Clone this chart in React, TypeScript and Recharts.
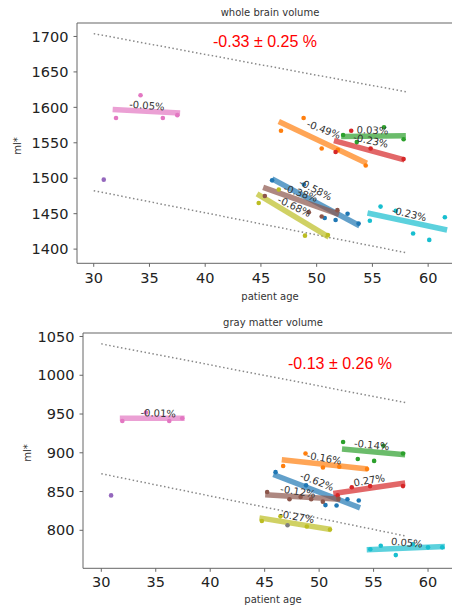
import { ComposedChart, ReferenceLine, Scatter, XAxis, YAxis } from "recharts";

type Pair = [number, number];

// subject colours, matplotlib tab10 order
const colors = [
  "#1f77b4",
  "#ff7f0e",
  "#2ca02c",
  "#d62728",
  "#9467bd",
  "#8c564b",
  "#e377c2",
  "#7f7f7f",
  "#bcbd22",
  "#17becf"
];

const ageTicks = [30, 35, 40, 45, 50, 55, 60];

// ---- whole brain volume: [age, ml]
const wbBlue: Pair[] = [[46.0, 1497], [48.86, 1491], [50.72, 1444], [51.7, 1441], [52.77, 1450], [53.76, 1436]];
const wbOrange: Pair[] = [[46.8, 1567], [48.83, 1585], [50.45, 1542], [51.9, 1540], [54.4, 1518]];
const wbGreen: Pair[] = [[52.37, 1561], [53.6, 1551], [56.04, 1572], [57.8, 1555]];
const wbRed: Pair[] = [[51.7, 1537], [53.1, 1567], [54.84, 1542], [57.8, 1527]];
const wbPurple: Pair[] = [[30.9, 1498]];
const wbBrown: Pair[] = [[45.35, 1475], [49.3, 1452], [50.45, 1446], [51.86, 1455]];
const wbPink: Pair[] = [[32.0, 1585], [34.2, 1617], [36.2, 1585], [37.5, 1589]];
const wbGray: Pair[] = [];
const wbOlive: Pair[] = [[44.8, 1465], [46.6, 1484], [48.95, 1419], [51.0, 1420]];
const wbCyan: Pair[] = [[54.77, 1440], [55.73, 1460], [57.1, 1454], [58.65, 1422], [60.1, 1413], [61.5, 1445]];

const wbFitStart: (Pair | null)[] = [[46.0, 1499], [46.6, 1580], [52.2, 1559], [51.55, 1553], null, [45.2, 1487], [31.7, 1597], null, [44.65, 1478], [54.56, 1451]];
const wbFitEnd: (Pair | null)[] = [[53.85, 1433], [54.5, 1521], [58.0, 1560], [57.87, 1526], null, [52.0, 1449], [37.75, 1592], null, [51.1, 1417], [61.7, 1427]];
const wbLabelText = ["-0.58%", "-0.49%", "0.03%", "-0.23%", "", "-0.38%", "-0.05%", "", "-0.68%", "-0.23%"];
const wbLabelAt: Pair[] = [[49.9, 1484], [50.63, 1568.6], [55.0, 1567.6], [54.86, 1553], [0, 0], [48.56, 1479], [34.77, 1602.5], [0, 0], [48.0, 1460], [58.3, 1449.6]];
const wbLabelAngle = [27, 21, 2, 12, 0, 18, 4, 0, 25, 13];
const wbBoundUpper: Pair[] = [[30, 1704], [58, 1622]];
const wbBoundLower: Pair[] = [[30, 1482.5], [58, 1395]];
const wbTicks = [1400, 1450, 1500, 1550, 1600, 1650, 1700];

// ---- gray matter volume: [age, ml]
const gmBlue: Pair[] = [[46.0, 875], [48.8, 858], [50.58, 832.5], [51.6, 832], [52.6, 840], [53.64, 838.5]];
const gmOrange: Pair[] = [[46.7, 883], [48.75, 899], [50.35, 881], [51.85, 882], [54.4, 879]];
const gmGreen: Pair[] = [[52.2, 914], [53.55, 892], [55.05, 889.5], [55.9, 909], [57.7, 899]];
const gmRed: Pair[] = [[51.7, 845], [53.0, 855.5], [54.68, 857], [57.7, 857]];
const gmPurple: Pair[] = [[30.9, 845]];
const gmBrown: Pair[] = [[45.23, 849.5], [47.28, 840], [48.3, 843], [49.27, 840], [50.34, 837], [51.77, 840.5]];
const gmPink: Pair[] = [[31.93, 941], [34.1, 952], [36.24, 941], [37.43, 944.5]];
const gmGray: Pair[] = [[47.1, 806.5]];
const gmOlive: Pair[] = [[44.74, 812], [46.45, 818], [48.87, 805], [51.0, 801]];
const gmCyan: Pair[] = [[54.7, 775.5], [55.66, 780], [57.04, 768], [58.6, 782], [60.0, 778], [61.3, 778]];

const gmFitStart: (Pair | null)[] = [[45.8, 872], [46.57, 891], [52.1, 905], [51.3, 847.5], null, [45.05, 846], [31.7, 944.5], null, [44.52, 816], [54.37, 775]];
const gmFitEnd: (Pair | null)[] = [[53.76, 829], [54.47, 879], [57.9, 897.5], [57.9, 861], null, [51.93, 840], [37.65, 944.5], null, [51.1, 801], [61.55, 779]];
const gmLabelText = ["-0.62%", "-0.16%", "-0.14%", "0.27%", "", "-0.12%", "-0.01%", "", "-0.27%", "0.05%"];
const gmLabelAt: Pair[] = [[49.8, 863], [50.46, 893], [54.83, 910], [54.6, 864.5], [0, 0], [48.05, 850], [35.23, 951], [0, 0], [47.95, 817.5], [58.05, 784]];
const gmLabelAngle = [21, 10, 6, -10, 0, 9, 2, 0, 10, 5];
const gmBoundUpper: Pair[] = [[30, 1040.5], [58, 964.5]];
const gmBoundLower: Pair[] = [[30, 873], [58, 792.5]];
const gmTicks = [800, 850, 900, 950, 1000, 1050];

const font = "'DejaVu Sans', sans-serif";
const spine = "#666";

interface PanelProps {
  top: number;
  height: number;
  plotTop: number;
  plotHeight: number;
  plotLeft: number;
  xDomain: [number, number];
  yDomain: [number, number];
  yTicks: number[];
  points: Pair[][];
  fitStart: (Pair | null)[];
  fitEnd: (Pair | null)[];
  labelText: string[];
  labelAt: Pair[];
  labelAngle: number[];
  bounds: Pair[][];
  tickGap: number;
}

const toObj = (p: Pair) => ({ age: p[0], vol: p[1] });

function Panel(props: PanelProps) {
  const labels = props.labelText
    .map((text, i) => ({ age: props.labelAt[i][0], vol: props.labelAt[i][1], text, angle: props.labelAngle[i] }))
    .filter((l) => l.text);

  return (
    <div style={{ position: "absolute", left: 0, top: props.top }}>
      <ComposedChart
        width={452}
        height={props.height}
        margin={{ top: props.plotTop, right: 0, bottom: 0, left: props.plotLeft - 60 }}
      >
        <XAxis
          dataKey="age"
          type="number"
          domain={props.xDomain}
          ticks={ageTicks}
          allowDataOverflow
          height={props.height - props.plotTop - props.plotHeight}
          tickSize={3.5}
          tickMargin={props.tickGap}
          stroke={spine}
          tick={{ fill: "#222", fontSize: 14.5, fontFamily: font }}
        />
        <YAxis
          dataKey="vol"
          type="number"
          domain={props.yDomain}
          ticks={props.yTicks}
          allowDataOverflow
          width={60}
          tickSize={3.5}
          tickMargin={5}
          stroke={spine}
          tick={{ fill: "#222", fontSize: 14.5, fontFamily: font }}
        />
        <ReferenceLine y={props.yDomain[1]} stroke={spine} strokeWidth={1.2} ifOverflow="visible" />
        {props.bounds.map((b, i) => (
          <ReferenceLine
            key={`bound-${i}`}
            segment={[{ x: b[0][0], y: b[0][1] }, { x: b[1][0], y: b[1][1] }]}
            stroke="#888"
            strokeWidth={1.5}
            strokeDasharray="1.5 2.5"
          />
        ))}
        {props.fitStart.map((s, i) => {
          const e = props.fitEnd[i];
          if (!s || !e) return null;
          return (
            <ReferenceLine
              key={`fit-${i}`}
              segment={[{ x: s[0], y: s[1] }, { x: e[0], y: e[1] }]}
              stroke={colors[i]}
              strokeWidth={5.5}
              strokeOpacity={0.7}
            />
          );
        })}
        {props.points.map((pts, i) => (
          <Scatter
            key={`pts-${i}`}
            data={pts.map(toObj)}
            fill={colors[i]}
            isAnimationActive={false}
            shape={(p: any) => <circle cx={p.cx} cy={p.cy} r={2.3} fill={colors[i]} />}
          />
        ))}
        <Scatter
          data={labels}
          isAnimationActive={false}
          shape={(p: any) => (
            <text
              x={p.cx}
              y={p.cy}
              transform={`rotate(${p.payload.angle} ${p.cx} ${p.cy})`}
              textAnchor="middle"
              dominantBaseline="central"
              fontSize={10}
              fontFamily={font}
              fill="#333"
            >
              {p.payload.text}
            </text>
          )}
        />
      </ComposedChart>
    </div>
  );
}

const textStyle: React.CSSProperties = {
  position: "absolute",
  transform: "translate(-50%, -50%)",
  whiteSpace: "nowrap",
  lineHeight: 1,
  fontFamily: font,
  fontSize: 10,
  color: "#333"
};

const noteStyle: React.CSSProperties = {
  ...textStyle,
  fontFamily: "'Liberation Sans', Arial, sans-serif",
  fontSize: 16,
  color: "#ff0000"
};

export default function App() {
  return (
    <div style={{ position: "absolute", left: 0, top: 0, width: 452, height: 608, background: "#fff", overflow: "hidden" }}>
      <Panel
        top={0}
        height={305}
        plotTop={23}
        plotHeight={240.3}
        plotLeft={77}
        xDomain={[28.5, 62.14]}
        yDomain={[1380, 1719]}
        yTicks={wbTicks}
        points={[wbBlue, wbOrange, wbGreen, wbRed, wbPurple, wbBrown, wbPink, wbGray, wbOlive, wbCyan]}
        fitStart={wbFitStart}
        fitEnd={wbFitEnd}
        labelText={wbLabelText}
        labelAt={wbLabelAt}
        labelAngle={wbLabelAngle}
        bounds={[wbBoundUpper, wbBoundLower]}
        tickGap={6}
      />
      <Panel
        top={305}
        height={303}
        plotTop={28}
        plotHeight={235.3}
        plotLeft={83}
        xDomain={[28.32, 62.2]}
        yDomain={[751, 1054.5]}
        yTicks={gmTicks}
        points={[gmBlue, gmOrange, gmGreen, gmRed, gmPurple, gmBrown, gmPink, gmGray, gmOlive, gmCyan]}
        fitStart={gmFitStart}
        fitEnd={gmFitEnd}
        labelText={gmLabelText}
        labelAt={gmLabelAt}
        labelAngle={gmLabelAngle}
        bounds={[gmBoundUpper, gmBoundLower]}
        tickGap={5}
      />
      <div style={{ ...textStyle, left: 270, top: 13 }}>whole brain volume</div>
      <div style={{ ...textStyle, left: 270, top: 297 }}>patient age</div>
      <div style={{ ...textStyle, left: 18, top: 146, transform: "translate(-50%, -50%) rotate(-90deg)" }}>ml*</div>
      <div style={{ ...noteStyle, left: 265, top: 42 }}>-0.33 ± 0.25 %</div>

      <div style={{ ...textStyle, left: 273, top: 323 }}>gray matter volume</div>
      <div style={{ ...textStyle, left: 273, top: 600 }}>patient age</div>
      <div style={{ ...textStyle, left: 28, top: 453, transform: "translate(-50%, -50%) rotate(-90deg)" }}>ml*</div>
      <div style={{ ...noteStyle, left: 340, top: 364 }}>-0.13 ± 0.26 %</div>
    </div>
  );
}
